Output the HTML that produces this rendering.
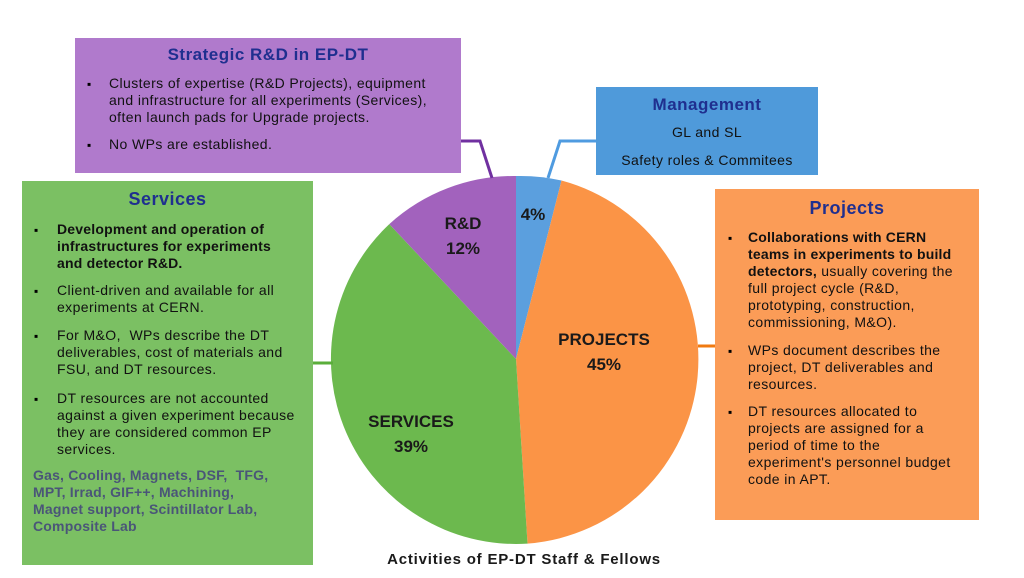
<!DOCTYPE html>
<html><head><meta charset="utf-8"><style>
body{margin:0;width:1024px;height:578px;background:#fff;position:relative;overflow:hidden;font-family:"Liberation Sans",Arial,sans-serif;}
.box{position:absolute;box-sizing:border-box;}
.t{position:absolute;font-size:14px;letter-spacing:0.4px;line-height:17px;color:#111;white-space:nowrap;}
.h{position:absolute;font-weight:bold;color:#1f2f8f;font-size:17px;letter-spacing:0.5px;text-align:center;}
.b{position:absolute;font-size:12px;}
</style></head><body>
<svg width="1024" height="578" style="position:absolute;left:0;top:0">
<path d="M516,359 L516,176 A185,185 0 0 1 561.5,180.5 Z" fill="#5b9fde"/>
<path d="M516,359 L561.5,180.5 A185,185 0 0 1 527.5,543.6 Z" fill="#fb9446"/>
<path d="M516,359 L527.5,543.6 A185,185 0 0 1 389.3,224.1 Z" fill="#6cb94e"/>
<path d="M516,359 L389.3,224.1 A185,185 0 0 1 516,176 Z" fill="#a262bd"/>
<polyline points="461,141 480,141 492,178" fill="none" stroke="#7030a0" stroke-width="3"/>
<polyline points="596,141 560,141 548,178" fill="none" stroke="#4f9be0" stroke-width="3"/>
<line x1="313" y1="363" x2="333" y2="363" stroke="#5aae3a" stroke-width="3"/>
<line x1="698" y1="346" x2="733" y2="346" stroke="#f07a10" stroke-width="3"/>
<g font-family="Liberation Sans, sans-serif" font-weight="bold" font-size="17" fill="#1a1a1a" text-anchor="middle">
<text x="533" y="220">4%</text>
<text x="463" y="229">R&amp;D</text><text x="463" y="254">12%</text>
<text x="604" y="345">PROJECTS</text><text x="604" y="370">45%</text>
<text x="411" y="427">SERVICES</text><text x="411" y="452">39%</text>
<text x="524" y="564" font-size="15" letter-spacing="0.8">Activities of EP-DT Staff &amp; Fellows</text>
</g>
</svg>

<div class="box" style="left:75px;top:38px;width:386px;height:135px;background:#b07acc;"></div>
<div class="h" style="left:75px;top:45px;width:386px;">Strategic R&amp;D in EP-DT</div>
<div class="b" style="left:87px;top:77px;">▪</div>
<div class="t" style="left:109px;top:75px;">Clusters of expertise (R&amp;D Projects), equipment<br>and infrastructure for all experiments (Services),<br>often launch pads for Upgrade projects.</div>
<div class="b" style="left:87px;top:138px;">▪</div>
<div class="t" style="left:109px;top:136px;">No WPs are established.</div>

<div class="box" style="left:596px;top:87px;width:222px;height:88px;background:#4f9ada;"></div>
<div class="h" style="left:596px;top:95px;width:222px;">Management</div>
<div class="t" style="left:596px;top:124px;width:222px;text-align:center;">GL and SL</div>
<div class="t" style="left:596px;top:152px;width:222px;text-align:center;">Safety roles &amp; Commitees</div>

<div class="box" style="left:22px;top:181px;width:291px;height:384px;background:#7bc063;"></div>
<div class="h" style="left:22px;top:189px;width:291px;font-size:18px;">Services</div>
<div class="b" style="left:34px;top:223px;">▪</div>
<div class="t" style="left:57px;top:221px;font-weight:bold;letter-spacing:0.2px;">Development and operation of<br>infrastructures for experiments<br>and detector R&amp;D.</div>
<div class="b" style="left:34px;top:284px;">▪</div>
<div class="t" style="left:57px;top:282px;">Client-driven and available for all<br>experiments at CERN.</div>
<div class="b" style="left:34px;top:329px;">▪</div>
<div class="t" style="left:57px;top:327px;">For M&amp;O,&nbsp; WPs describe the DT<br>deliverables, cost of materials and<br>FSU, and DT resources.</div>
<div class="b" style="left:34px;top:392px;">▪</div>
<div class="t" style="left:57px;top:390px;">DT resources are not accounted<br>against a given experiment because<br>they are considered common EP<br>services.</div>
<div class="t" style="left:33px;top:467px;font-weight:bold;color:#4a5578;letter-spacing:0.2px;">Gas, Cooling, Magnets, DSF,&nbsp; TFG,<br>MPT, Irrad, GIF++, Machining,<br>Magnet support, Scintillator Lab,<br>Composite Lab</div>

<div class="box" style="left:715px;top:189px;width:264px;height:331px;background:#fb9c57;"></div>
<div class="h" style="left:715px;top:198px;width:264px;font-size:18px;">Projects</div>
<div class="b" style="left:728px;top:231px;">▪</div>
<div class="t" style="left:748px;top:229px;"><b style="letter-spacing:0.2px">Collaborations with CERN<br>teams in experiments to build<br>detectors,</b> usually covering the<br>full project cycle (R&amp;D,<br>prototyping, construction,<br>commissioning, M&amp;O).</div>
<div class="b" style="left:728px;top:344px;">▪</div>
<div class="t" style="left:748px;top:342px;">WPs document describes the<br>project, DT deliverables and<br>resources.</div>
<div class="b" style="left:728px;top:405px;">▪</div>
<div class="t" style="left:748px;top:403px;">DT resources allocated to<br>projects are assigned for a<br>period of time to the<br>experiment's personnel budget<br>code in APT.</div>
</body></html>
